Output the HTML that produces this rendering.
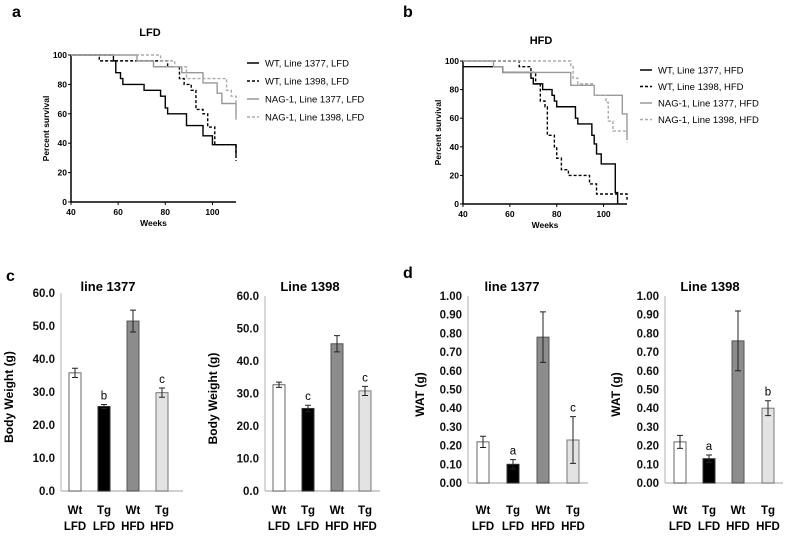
<!DOCTYPE html>
<html><head><meta charset="utf-8"><style>
body{margin:0;background:#fff;}
svg{display:block;font-family:"Liberation Sans",sans-serif;}
</style></head><body>
<svg id="fig" width="800" height="555" viewBox="0 0 800 555"></svg>
<script>
// ---- survival data (week, percent) change points ----
const lfdWt1377 = [[40,100],[58,96],[59,88],[61,84],[62,80],[71,76],[78,72],[80,64],[81,60],[89,52],[96,45],[100,39],[110,32]];
const lfdWt1398 = [[40,100],[52,96],[81,92],[86,84],[88,80],[91,76],[93,63],[96,60],[98,51],[101,39],[110,28]];
const lfdNag1377 = [[40,100],[68,96],[75,92],[87,88],[96,81],[102,74],[104,67],[110,56]];
const lfdNag1398 = [[40,100],[78,96],[84,92],[89,84],[106,76],[108,72],[110,62]];
const hfdWt1377 = [[40,96],[57,92],[69,88],[70,84],[74,80],[78,76],[79,72],[80,68],[88,60],[89,56],[95,48],[96,42],[97,35],[99,28],[105,8],[106,0]];
const hfdWt1398 = [[40,100],[64,96],[69,92],[71,84],[73,72],[75,68],[76,48],[79,40],[80,32],[82,24],[85,20],[94,14],[97,7],[110,3]];
const hfdNag1377 = [[40,100],[53,96],[57,92],[86,83],[96,76],[108,63],[110,45]];
const hfdNag1398 = [[40,100],[86,96],[87,88],[89,84],[96,76],[101,71],[102,58],[104,51],[110,43]];
const survTicksX = [40,60,80,100];
const survTicksY = [0,20,40,60,80,100];
// ---- bar data ----
const barCats = [["Wt","LFD"],["Tg","LFD"],["Wt","HFD"],["Tg","HFD"]];
const bw1377 = [35.8,25.6,51.5,29.8], bw1377Err = [1.4,0.6,3.3,1.4], bw1377Let = ["","b","","c"];
const bw1398 = [32.7,25.4,45.3,30.8], bw1398Err = [0.8,1.0,2.5,1.4], bw1398Let = ["","c","","c"];
const wat1377 = [0.22,0.10,0.78,0.23], wat1377Err = [0.03,0.025,0.135,0.125], wat1377Let = ["","a","","c"];
const wat1398 = [0.22,0.13,0.76,0.40], wat1398Err = [0.035,0.02,0.16,0.04], wat1398Let = ["","a","","b"];
const bwTicks = [0,10,20,30,40,50,60];
const watTicks = [0,0.1,0.2,0.3,0.4,0.5,0.6,0.7,0.8,0.9,1.0];

const NS="http://www.w3.org/2000/svg", svg=document.getElementById('fig');
function el(tag,attrs,parent,txt){const e=document.createElementNS(NS,tag);for(const k in attrs)e.setAttribute(k,attrs[k]);if(txt!==undefined)e.textContent=txt;(parent||svg).appendChild(e);return e;}

function survival(g,x0,x1,y0,y1,title,tx,ty,series,legX,legY,legDy){
  const sx=w=>x0+(w-40)/(110-40)*(x1-x0), sy=p=>y0-p/100*(y0-y1);
  const gg=el('g',{});
  
  
  const t=el('text',{x:tx,y:ty,'font-size':11,'font-weight':'bold','text-anchor':'middle'},gg,title);
  
  el('line',{x1:x0,y1:y0,x2:x1,y2:y0,stroke:'#000','stroke-width':1.5},gg);
  el('line',{x1:x0,y1:y0,x2:x0,y2:y1,stroke:'#000','stroke-width':1.5},gg);
  survTicksX.forEach(v=>{el('line',{x1:sx(v),y1:y0,x2:sx(v),y2:y0+3,stroke:'#000'},gg);
    const l=el('text',{x:sx(v),y:y0+13,'font-size':8.5,'font-weight':'bold','text-anchor':'middle'},gg,v);});
  survTicksY.forEach(v=>{el('line',{x1:x0-3,y1:sy(v),x2:x0,y2:sy(v),stroke:'#000'},gg);
    const l=el('text',{x:x0-4,y:sy(v)+3,'font-size':8.5,'font-weight':'bold','text-anchor':'end'},gg,v);});
  const xl=el('text',{x:(x0+x1)/2,y:y0+24,'font-size':8.5,'font-weight':'bold','text-anchor':'middle'},gg,'Weeks');
  const yl=el('text',{x:0,y:0,'font-size':8.5,'font-weight':'bold','text-anchor':'middle',transform:`translate(${x0-22},${(y0+y1)/2}) rotate(-90)`},gg,'Percent survival');
  series.forEach((s,i)=>{
    let d='M'+sx(s.d[0][0])+','+sy(s.d[0][1]);
    for(let k=1;k<s.d.length;k++){d+=' H'+sx(s.d[k][0])+' V'+sy(s.d[k][1]);}
    const p=el('path',{d:d,fill:'none',stroke:s.c,'stroke-width':1.4,'stroke-dasharray':s.dash?'3,2':'none'},gg);
    
    
    const ly=legY+i*legDy;
    el('line',{x1:legX,y1:ly,x2:legX+12,y2:ly,stroke:s.c,'stroke-width':1.5,'stroke-dasharray':s.dash?'3,2':'none'},gg);
    const lt=el('text',{x:legX+18,y:ly+3.5,'font-size':9.5},gg,s.name);
    
    
  });
}
survival('lfd',71,236,202,55,'LFD',150,36,[
 {id:'wt-1377',d:lfdWt1377,c:'#000',dash:false,name:'WT, Line 1377, LFD'},
 {id:'wt-1398',d:lfdWt1398,c:'#000',dash:true,name:'WT, Line 1398, LFD'},
 {id:'nag1-1377',d:lfdNag1377,c:'#999',dash:false,name:'NAG-1, Line 1377, LFD'},
 {id:'nag1-1398',d:lfdNag1398,c:'#aaa',dash:true,name:'NAG-1, Line 1398, LFD'}],247,63,18);
survival('hfd',463,627,204,61,'HFD',541,44,[
 {id:'wt-1377',d:hfdWt1377,c:'#000',dash:false,name:'WT, Line 1377, HFD'},
 {id:'wt-1398',d:hfdWt1398,c:'#000',dash:true,name:'WT, Line 1398, HFD'},
 {id:'nag1-1377',d:hfdNag1377,c:'#999',dash:false,name:'NAG-1, Line 1377, HFD'},
 {id:'nag1-1398',d:hfdNag1398,c:'#aaa',dash:true,name:'NAG-1, Line 1398, HFD'}],640,70,16.5);

const fills=['#fff','#000','#8c8c8c','#e3e3e3'];
const strokes=['#666','#333','#555','#777'];
function bars(name,ax,axEnd,y0,yTop,max,ticks,fmt,vals,errs,lets,centers,title,tx,ytitle,ytx){
  const sy=v=>y0-v/max*(y0-yTop);
  const g=el('g',{});
  
  
  el('line',{x1:ax,y1:y0,x2:axEnd,y2:y0,stroke:'#bfbfbf','stroke-width':1.5},g);
  el('line',{x1:ax,y1:y0,x2:ax,y2:yTop,stroke:'#bfbfbf','stroke-width':1.2},g);
  ticks.forEach(v=>{const t=el('text',{x:ax-6,y:sy(v)+4,'font-size':11.5,'font-weight':'bold','text-anchor':'end',fill:'#111'},g,fmt(v));});
  const tt=el('text',{x:tx,y:291,'font-size':13,'font-weight':'bold','text-anchor':'middle'},g,title);
  const yt=el('text',{x:0,y:0,'font-size':12,'font-weight':'bold','text-anchor':'middle',transform:`translate(${ytx},${(y0+yTop)/2+5}) rotate(-90)`},g,ytitle);
  vals.forEach((v,i)=>{
    const c=centers[i],w=12;
    const r=el('rect',{x:c-w/2,y:sy(v),width:w,height:y0-sy(v),fill:fills[i],stroke:strokes[i],'stroke-width':1},g);
    
    
    const hi=sy(v+errs[i]),lo=sy(v-errs[i]);
    el('path',{d:`M${c},${hi}V${lo}M${c-3},${hi}H${c+3}M${c-3},${lo}H${c+3}`,stroke:'#222','stroke-width':1,fill:'none'},g);
    if(lets[i]){const l=el('text',{x:c,y:hi-5,'font-size':11.5,'text-anchor':'middle'},g,lets[i]);}
    el('text',{x:c,y:514,'font-size':11.5,'font-weight':'bold','text-anchor':'middle'},g,barCats[i][0]);
    el('text',{x:c,y:530,'font-size':11.5,'font-weight':'bold','text-anchor':'middle'},g,barCats[i][1]);
  });
}
const f1=v=>v.toFixed(1), f2=v=>v.toFixed(2);
bars('body-weight-1377',61,183,491,293,60,bwTicks,f1,bw1377,bw1377Err,bw1377Let,[75,104,133,162],'line  1377',108,'Body Weight (g)',13);
bars('body-weight-1398',265,380,491,296,60,bwTicks,f1,bw1398,bw1398Err,bw1398Let,[279,308,337,365],'Line 1398',310,'Body Weight (g)',217);
bars('wat-1377',468,588,483,296,1,watTicks,f2,wat1377,wat1377Err,wat1377Let,[483,513,543,573],'line 1377',512,'WAT (g)',424);
bars('wat-1398',665,783,483,296,1,watTicks,f2,wat1398,wat1398Err,wat1398Let,[680,709,738,768],'Line 1398',710,'WAT (g)',620);

[['a',12,17],['b',403,17],['c',6,281],['d',403,278]].forEach(p=>{
  const t=el('text',{x:p[1],y:p[2],'font-size':16,'font-weight':'bold'},svg,p[0]);
  
  
});
</script>
</body></html>
